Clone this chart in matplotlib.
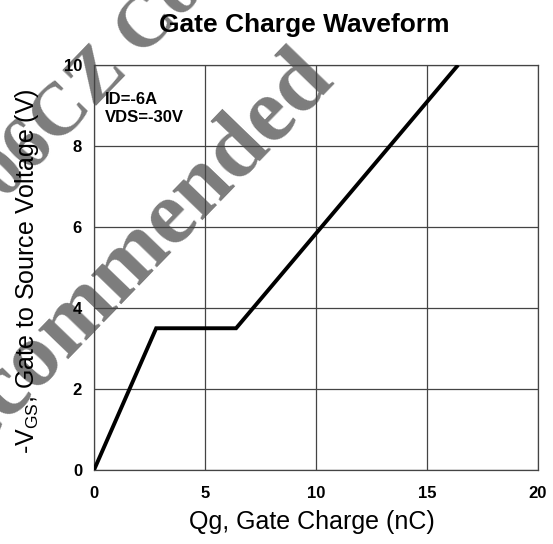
import numpy as np
import matplotlib
matplotlib.use('Agg')
from matplotlib import pyplot as plt

###Data
qg = [0, 2.8, 6.4, 16.4]          # gate charge (nC)
vgs = [0, 3.5, 3.5, 10]           # -VGS (V)
xticks = [0, 5, 10, 15, 20]
yticks = [0, 2, 4, 6, 8, 10]
cond_text = "ID=-6A\nVDS=-30V"

narrow = ['Liberation Sans Narrow', 'Liberation Sans', 'DejaVu Sans']
plt.rcParams['font.family'] = ['Liberation Sans', 'DejaVu Sans']
plt.rcParams['mathtext.fontset'] = 'custom'
plt.rcParams['mathtext.rm'] = 'Liberation Sans'

W, H = 553, 544
fig = plt.figure(figsize=(W / 100, H / 100), dpi=100)
ax = fig.add_axes([94 / W, 1 - 470 / H, 444 / W, 405 / H])
ax.set_facecolor('none')

###Watermark behind everything
wm = dict(color='#7c7c7c', family=['Liberation Serif', 'DejaVu Serif'],
          weight='bold', rotation=46, rotation_mode='anchor',
          ha='left', va='baseline', zorder=-5)
fig.text(-67 / W, 1 - 498 / H, "Recommended", fontsize=66, **wm)
fig.text(-22 / W, 1 - 228 / H, "606CZ Component", fontsize=54, **wm)

###Main curve
ax.plot(qg, vgs, color='black', linewidth=2.8, solid_capstyle='butt',
        solid_joinstyle='miter', zorder=3)

ax.set_xlim(0, 20)
ax.set_ylim(0, 10)
ax.set_xticks(xticks)
ax.set_yticks(yticks)
ax.grid(True, color='#444444', linewidth=0.9)
for sp in ax.spines.values():
    sp.set_color('#444444')
    sp.set_linewidth(0.9)
ax.tick_params(axis='both', length=0)
ax.tick_params(axis='x', pad=11.5)
ax.tick_params(axis='y', pad=8.6)
for lab in ax.get_xticklabels() + ax.get_yticklabels():
    lab.set_family(narrow)
    lab.set_fontweight('bold')
    lab.set_fontsize(12)

ax.text(0.025, 0.933, cond_text, transform=ax.transAxes, ha='left', va='top',
        family=narrow, fontweight='bold', fontsize=12, linespacing=1.25)

###Labels and title
ax.set_xlabel("Qg, Gate Charge (nC)", fontsize=18)
ax.xaxis.set_label_coords((312 - 94) / 444, (470 - 522) / 405)
ax.xaxis.label.set_va('center')
ax.set_ylabel(r"-V$_{\mathregular{GS}}$, Gate to Source Voltage (V)", fontsize=18)
ax.yaxis.set_label_coords((27 - 94) / 444, 0.49)
ax.yaxis.label.set_va('center')
fig.text(304 / W, 1 - 25 / H, "Gate Charge Waveform", fontsize=19,
         fontweight='bold', ha='center', va='center')

plt.savefig('out.png', dpi=100)
